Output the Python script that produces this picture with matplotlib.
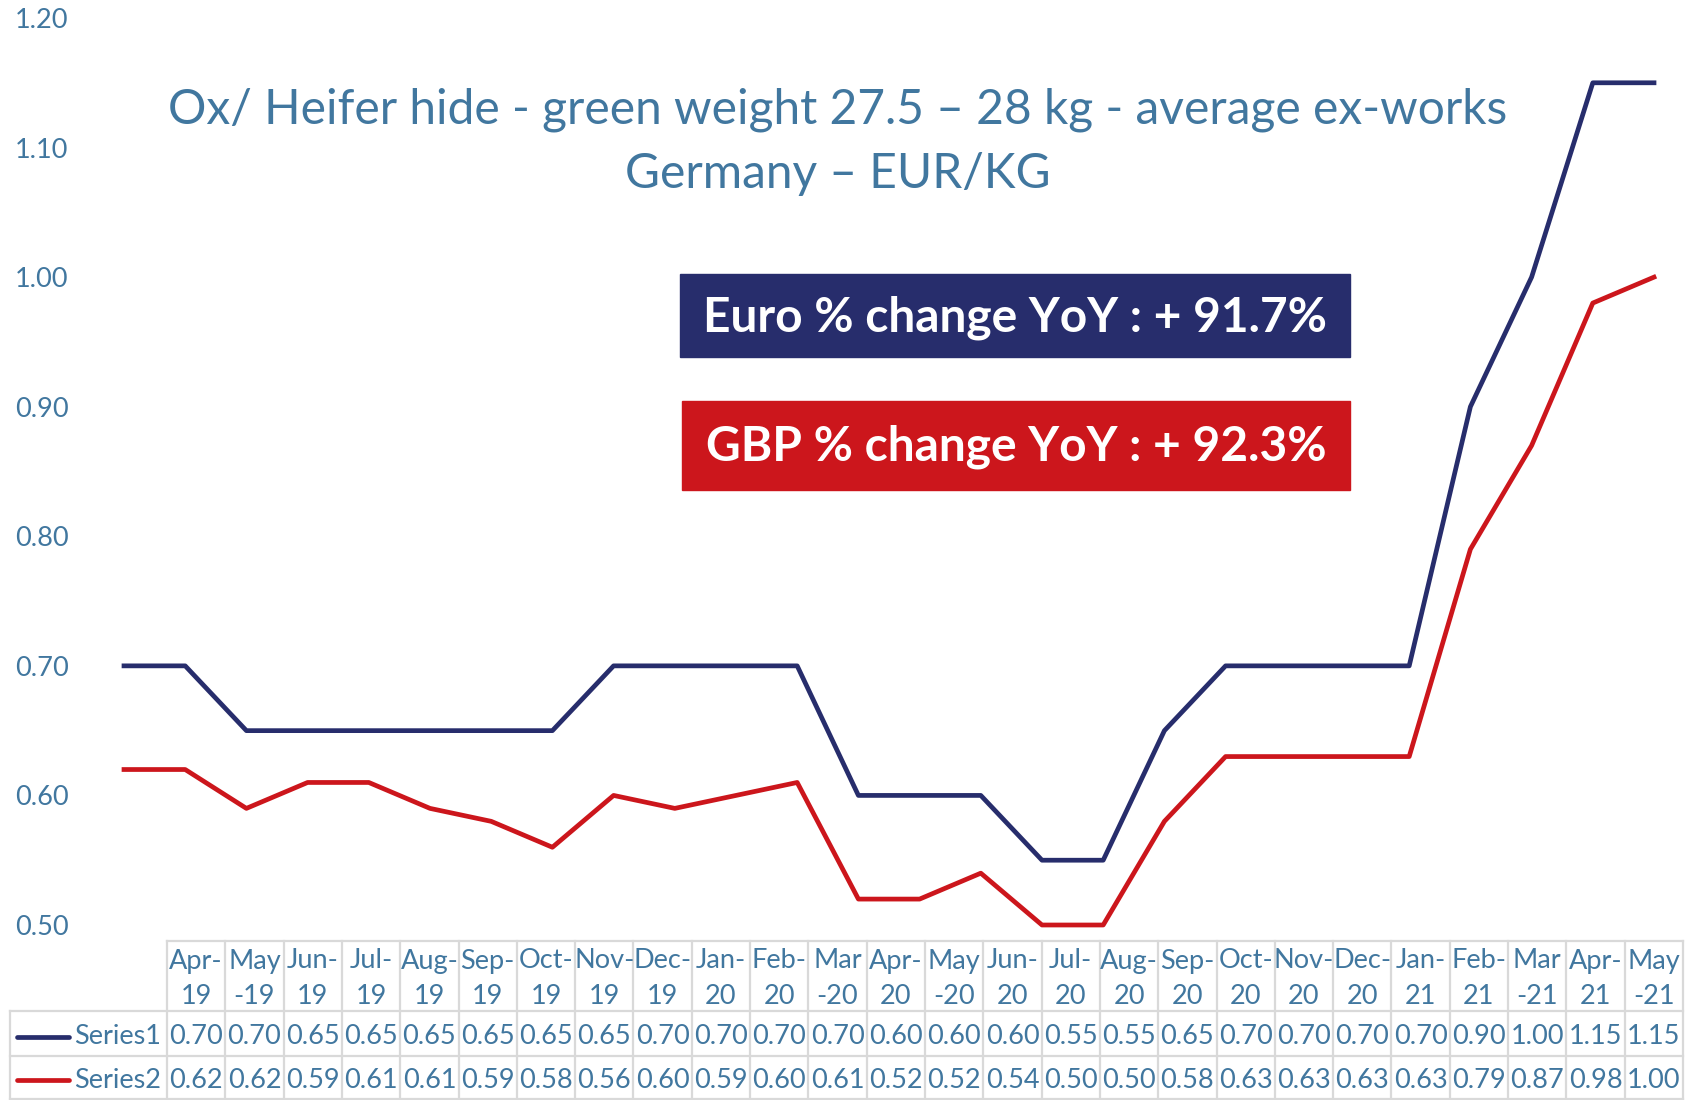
import matplotlib
matplotlib.use('Agg')
import matplotlib.pyplot as plt
from matplotlib.patches import Rectangle

plt.rcParams['font.family'] = ['Lato', 'DejaVu Sans']

# data
months = ['Apr-\n19', 'May\n-19', 'Jun-\n19', 'Jul-\n19', 'Aug-\n19', 'Sep-\n19',
          'Oct-\n19', 'Nov-\n19', 'Dec-\n19', 'Jan-\n20', 'Feb-\n20', 'Mar\n-20',
          'Apr-\n20', 'May\n-20', 'Jun-\n20', 'Jul-\n20', 'Aug-\n20', 'Sep-\n20',
          'Oct-\n20', 'Nov-\n20', 'Dec-\n20', 'Jan-\n21', 'Feb-\n21', 'Mar\n-21',
          'Apr-\n21', 'May\n-21']
series1 = [0.70, 0.70, 0.65, 0.65, 0.65, 0.65, 0.65, 0.65, 0.70, 0.70, 0.70, 0.70, 0.60,
           0.60, 0.60, 0.55, 0.55, 0.65, 0.70, 0.70, 0.70, 0.70, 0.90, 1.00, 1.15, 1.15]
series2 = [0.62, 0.62, 0.59, 0.61, 0.61, 0.59, 0.58, 0.56, 0.60, 0.59, 0.60, 0.61, 0.52,
           0.52, 0.54, 0.50, 0.50, 0.58, 0.63, 0.63, 0.63, 0.63, 0.79, 0.87, 0.98, 1.00]
series_names = ['Series1', 'Series2']
yticks = [0.50, 0.60, 0.70, 0.80, 0.90, 1.00, 1.10, 1.20]
title_lines = ['Ox/ Heifer hide - green weight 27.5 \u2013 28 kg - average ex-works',
               'Germany \u2013 EUR/KG']
euro_note = 'Euro % change YoY : + 91.7%'
gbp_note = 'GBP % change YoY : + 92.3%'

NAVY = '#272D6C'
RED = '#CC161C'
TXT = '#41779F'
GRID = '#D9D9D9'
FS = 19.5

W, H = 1690, 1100
fig = plt.figure(figsize=(W / 100, H / 100), dpi=100)
fig.patch.set_facecolor('white')

# line chart area (pixel layout)
px0, px1, py_top, py_bot = 124, 1654, 18, 925
ax = fig.add_axes([px0 / W, 1 - py_bot / H, (px1 - px0) / W, (py_bot - py_top) / H])
x = list(range(len(months)))
ax.plot(x, series1, color=NAVY, lw=3.4, clip_on=False, solid_joinstyle='round')
ax.plot(x, series2, color=RED, lw=3.4, clip_on=False, solid_joinstyle='round')
ax.set_xlim(0, len(months) - 1)
ax.set_ylim(0.5, 1.2)
ax.set_yticks(yticks)
ax.set_yticklabels([f'{v:.2f}' for v in yticks])
ax.tick_params(axis='y', length=0, pad=40, labelsize=FS, labelcolor=TXT)
ax.set_xticks([])
for s in ax.spines.values():
    s.set_visible(False)
ax.patch.set_alpha(0)

# overlay in pixel coordinates for title, note boxes and the data table
ov = fig.add_axes([0, 0, 1, 1], zorder=-1)
ov.set_xlim(0, W)
ov.set_ylim(H, 0)
ov.axis('off')

ov.text(838, 110, title_lines[0], ha='center', va='center', fontsize=34.5, color=TXT)
ov.text(838, 174, title_lines[1], ha='center', va='center', fontsize=34.5, color=TXT)

ov.add_patch(Rectangle((680, 274), 670, 83, color=NAVY))
ov.text(1015, 318, euro_note, ha='center', va='center', fontsize=34.5,
        fontweight='bold', color='white')
ov.add_patch(Rectangle((682, 401), 668, 89, color=RED))
ov.text(1016, 447, gbp_note, ha='center', va='center', fontsize=34.5,
        fontweight='bold', color='white')

# data table
tx0, tx1 = 167, 1683
col_w = (tx1 - tx0) / len(months)
rows = [941, 1011, 1056, 1099]
lkw = dict(color=GRID, lw=1.6)
ov.plot([tx0, tx1], [rows[0], rows[0]], **lkw)
for r in rows[1:]:
    ov.plot([10, tx1], [r, r], **lkw)
ov.plot([10, 10], [rows[1], rows[3]], **lkw)
for i in range(len(months) + 1):
    xx = tx0 + i * col_w
    ov.plot([xx, xx], [rows[0], rows[3]], **lkw)

for i, m in enumerate(months):
    cx = tx0 + (i + 0.5) * col_w
    top, bot = m.split('\n')
    ov.text(cx, 961, top, ha='center', va='center', fontsize=FS, color=TXT)
    ov.text(cx, 996, bot, ha='center', va='center', fontsize=FS, color=TXT)

for vals, name, col, ry in [(series1, series_names[0], NAVY, 1037),
                            (series2, series_names[1], RED, 1080)]:
    ov.plot([17, 69], [ry, ry], color=col, lw=3.4, solid_capstyle='round')
    ov.text(74, ry, name, ha='left', va='center', fontsize=FS, color=TXT)
    for i, v in enumerate(vals):
        cx = tx0 + (i + 0.5) * col_w
        ov.text(cx, ry, f'{v:.2f}', ha='center', va='center', fontsize=FS, color=TXT)

fig.savefig('out.png', dpi=100, facecolor='white')
